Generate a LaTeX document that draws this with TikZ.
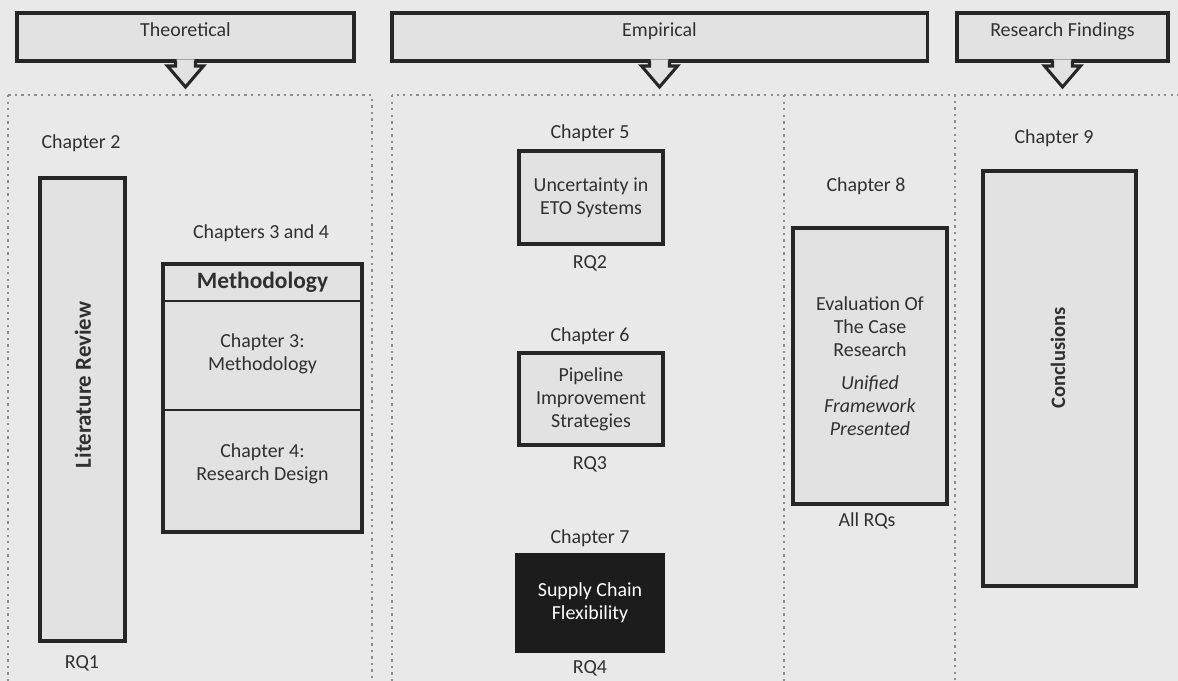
\documentclass[tikz,border=0pt]{standalone}
\usepackage{fontspec}
\setmainfont{Carlito}
\definecolor{pagebg}{HTML}{E9E9E9}
\definecolor{boxfill}{HTML}{E2E2E2}
\definecolor{linecol}{HTML}{262626}
\definecolor{txtcol}{HTML}{303030}
\definecolor{dotcol}{HTML}{8C8C8C}
\definecolor{darkbox}{HTML}{1C1C1C}

\begin{document}
\begin{tikzpicture}[x=0.03cm,y=-0.03cm,
  txt/.style={inner sep=0pt,align=center,text=txtcol,font=\fontsize{17}{19.6}\selectfont},
  chbox/.style={txt,draw=linecol,line width=2.6pt,fill=boxfill,outer sep=0pt,inner sep=2pt},
  hdbox/.style={chbox,text height=0.4cm,text depth=0.4cm,minimum height=1.44cm},
  hdline/.style={draw=linecol,line width=2.6pt},
  frame/.style={draw=dotcol,line width=2pt,dash pattern=on 2pt off 3.6pt},
  bigtxt/.style={txt,font=\fontsize{19.5}{23}\selectfont\bfseries}]
\clip (0,0) rectangle (1178,681);
\fill[pagebg] (0,0) rectangle (1178,681);

% column frames
\draw[frame] (8,95) rectangle (372,700);
\draw[frame] (392,95) rectangle (955,700);
\draw[frame] (784,95) rectangle (1210,700);

% headers
\node[hdbox,minimum width=10.11cm] (theo) at (185.5,37) {Theoretical};
\node[hdbox,minimum width=16.05cm] (emp) at (659.5,37) {Empirical};
\node[hdbox,minimum width=6.33cm] (find) at (1062.5,37) {Research Findings};

\foreach \h in {theo,emp,find}{
  \fill[boxfill,shift={(\h.south)}] (-8.8,-1.6) -- (-8.8,5) -- (-18,5) -- (0,26)
    -- (18,5) -- (8.8,5) -- (8.8,-1.6) -- cycle;
  \draw[hdline,shift={(\h.south)}] (-10,0) -- (-10,5) -- (-18,5) -- (0,26)
    -- (18,5) -- (10,5) -- (10,0);
}

% theoretical
\node[txt] (ch2) at (81,143) {Chapter 2};
\node[chbox,minimum width=2.55cm,minimum height=13.89cm] (lit) at (82.5,409.5) {};
\node[bigtxt,rotate=90] (littxt) at (83,385) {Literature Review};
\node[txt] (rq1) at (82,663) {RQ1};

\node[txt] (ch34) at (261,233) {Chapters 3 and 4};
\node[chbox,minimum width=5.97cm,minimum height=8.04cm] (meth) at (262.5,398) {};
\coordinate (cut1) at (0,301);
\coordinate (cut2) at (0,410);
\draw[hdline,line width=2pt] (meth.west |- cut1) -- (meth.east |- cut1);
\draw[hdline,line width=2pt] (meth.west |- cut2) -- (meth.east |- cut2);
\node[txt,font=\fontsize{20}{24}\selectfont\bfseries] (methhd) at (262.5,282) {Methodology};
\node[txt] (ch3) at (262.5,354) {Chapter 3:\\Methodology};
\node[txt] (ch4) at (262.5,464) {Chapter 4:\\Research Design};

% empirical
\node[txt] (ch5) at (590,133) {Chapter 5};
\node[chbox,minimum width=4.32cm,minimum height=2.79cm] (unc) at (591,197.5) {Uncertainty in\\ETO Systems};
\node[txt] (rq2) at (590,263) {RQ2};

\node[txt] (ch6) at (590,336) {Chapter 6};
\node[chbox,minimum width=4.32cm,minimum height=2.76cm] (pipe) at (591,399) {Pipeline\\Improvement\\Strategies};
\node[txt] (rq3) at (590,464) {RQ3};

\node[txt] (ch7) at (590,538) {Chapter 7};
\node[chbox,draw=darkbox,fill=darkbox,text=white,minimum width=4.38cm,minimum height=2.88cm] (scf) at (590,603) {Supply Chain\\Flexibility};
\node[txt] (rq4) at (590,668) {RQ4};

\node[txt] (ch8) at (866,186) {Chapter 8};
\node[chbox,minimum width=4.62cm,minimum height=8.28cm] (eval) at (870,366)
  {Evaluation Of\\The Case\\Research\\[0.3cm]\textit{Unified}\\\textit{Framework}\\\textit{Presented}};
\node[txt] (allrq) at (867,521) {All RQs};

% research findings
\node[txt] (ch9) at (1054,138) {Chapter 9};
\node[chbox,minimum width=4.59cm,minimum height=12.45cm] (concl) at (1059.5,378.5) {};
\node[bigtxt,font=\fontsize{17.5}{21}\selectfont\bfseries,rotate=90] (concltxt) at (1058,358) {Conclusions};
\end{tikzpicture}
\end{document}
